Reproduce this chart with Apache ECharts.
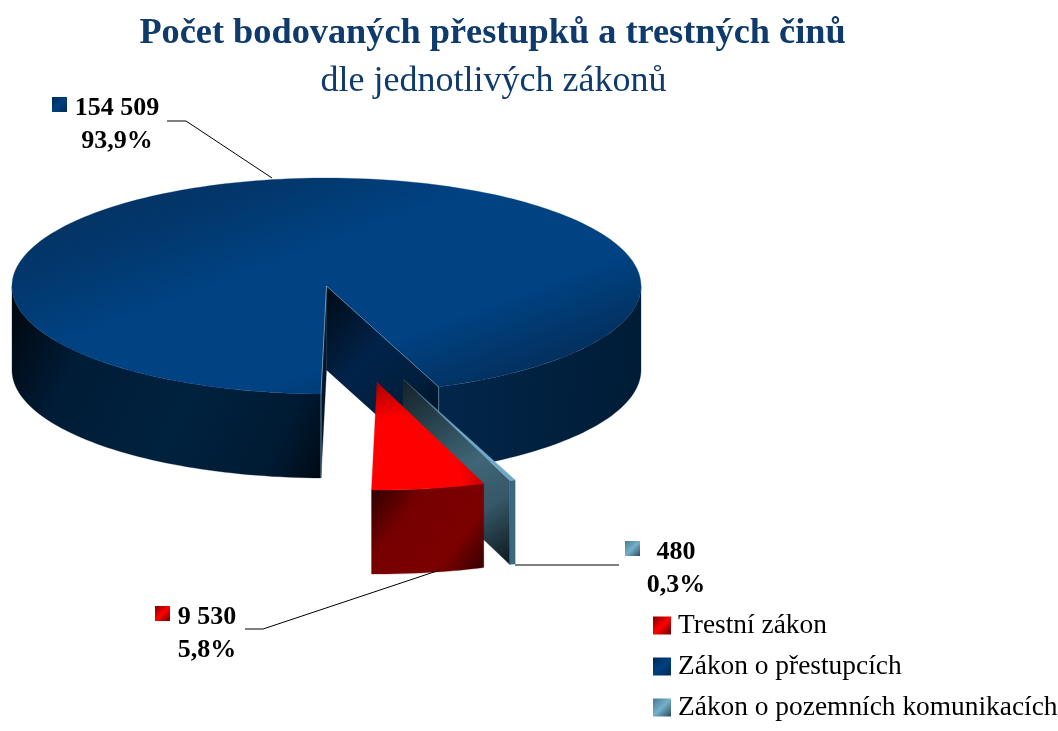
<!DOCTYPE html>
<html>
<head>
<meta charset="utf-8">
<title>Počet bodovaných přestupků</title>
<style>html,body{margin:0;padding:0;background:#fff}#chart{width:1058px;height:731px}</style>
<script src="https://cdn.jsdelivr.net/npm/echarts@6/dist/echarts.min.js"></script>
</head>
<body>
<div id="chart"></div>
<script>
// data
var categories = ['Trestní zákon', 'Zákon o přestupcích', 'Zákon o pozemních komunikacích'];
var values = [9530, 154509, 480];

var total = values.reduce(function (a, b) { return a + b; }, 0);
var serif = '"Liberation Serif", "Times New Roman", serif';

// pie geometry (screen), angle 0 = towards viewer, positive = to the right
var CX = 326.5, CY = 286, RX = 314.5, RY = 108, DEPTH = 84;
var START = 19.85;

function lin(x0, y0, x1, y1, stops) {
    var list = stops.map(function (s) { return { offset: s[0], color: s[1] }; });
    return new echarts.graphic.LinearGradient(x0, y0, x1, y1, list, true);
}
function rad(x, y, r, stops) {
    var list = stops.map(function (s) { return { offset: s[0], color: s[1] }; });
    return new echarts.graphic.RadialGradient(x, y, r, list, true);
}
function boxGrad(stops) {
    var list = stops.map(function (s) { return { offset: s[0], color: s[1] }; });
    return new echarts.graphic.LinearGradient(0, 0, 1, 1, list);
}

var markerStops = [
    [[0, '#7a0000'], [0.5, '#ff0000'], [1, '#6a0000']],
    [[0, '#002a55'], [0.5, '#004080'], [1, '#002a55']],
    [[0, '#4a7a90'], [0.5, '#74b0cc'], [1, '#2a4a5a']]
];

// where each slice sits and how its label is placed
var looks = [
    { dx: 50.5, dy: 96, labelX: 207, labelY: 634, markX: 155, markY: 606,
      leader: [[245, 629], [263, 629], [440, 570]] },
    { dx: 0, dy: 0, labelX: 117, labelY: 125, markX: 52, markY: 97,
      leader: [[167, 121], [186, 121], [272, 178]] },
    { dx: 76.5, dy: 93, labelX: 676, labelY: 569, markX: 625, markY: 541,
      leader: [[515, 565], [619, 565]] }
];

function pt(t, dx, dy, down) {
    var a = t * Math.PI / 180;
    return [CX + dx + RX * Math.sin(a), CY + dy + RY * Math.cos(a) + (down || 0)];
}
function arc(t0, t1, dx, dy, down) {
    var n = Math.max(2, Math.ceil(Math.abs(t1 - t0) / 1.5));
    var out = [];
    for (var i = 0; i <= n; i++) {
        out.push(pt(t0 + (t1 - t0) * i / n, dx, dy, down));
    }
    return out;
}
function band(t0, t1, dx, dy) {
    return arc(t0, t1, dx, dy, 0).concat(arc(t1, t0, dx, dy, DEPTH));
}
function poly(points, fill, stroke) {
    return {
        type: 'polygon',
        shape: { points: points },
        style: { fill: fill, stroke: stroke || fill, lineWidth: stroke ? 0.8 : 0.3 },
        silent: true
    };
}
function line(points, color, width) {
    return {
        type: 'polyline',
        shape: { points: points },
        style: { fill: null, stroke: color, lineWidth: width || 1 },
        silent: true
    };
}

function sliceAngles(idx) {
    var t = START;
    for (var i = 0; i < idx; i++) t -= values[i] / total * 360;
    return [t, t - values[idx] / total * 360];
}

function drawBlue(t0, t1, look) {
    var apex = [CX, CY];
    var rim0 = pt(t0, 0, 0), rim1 = pt(t1 + 360, 0, 0);
    var kids = [];
    // outer wall, left part and right part
    kids.push(poly(band(t0, -90, 0, 0), lin(12, 330, 322, 477, [
        [0, '#000a14'], [0.2, '#001c36'], [0.55, '#00223f'], [0.85, '#001a32'], [1, '#000a14']
    ])));
    kids.push(poly(band(90, t1 + 360, 0, 0), lin(440, 400, 640, 420, [
        [0, '#02264a'], [1, '#001c36']
    ])));
    // cut faces
    kids.push(poly([apex, rim1, [rim1[0], rim1[1] + DEPTH], [CX, CY + DEPTH]], lin(327, 300, 440, 400, [
        [0, '#000e1c'], [0.45, '#01234a'], [0.8, '#011f3c'], [1, '#00162c']
    ])));
    kids.push(poly([apex, rim0, [rim0[0], rim0[1] + DEPTH], [CX, CY + DEPTH]], '#00152c'));
    // top
    var top = [apex].concat(arc(t0, t1, 0, 0, 0));
    kids.push(poly(top, lin(200, 128, 319, 448, [
        [0, '#04305c'], [0.25, '#02386e'], [0.45, '#004282'], [0.78, '#004282'], [1, '#03305e']
    ])));
    kids.push(line([apex, rim1, [rim1[0], rim1[1] + 30]], '#6f93ad', 0.7));
    kids.push(line([apex, rim0, [rim0[0], rim0[1] + DEPTH]], '#7ea3ba', 0.8));
    return kids;
}

function drawRed(t0, t1, look) {
    var kids = [];
    kids.push(poly(band(t0, t1, look.dx, look.dy), lin(371, 490, 484, 573, [
        [0, '#2e0000'], [0.3, '#760000'], [0.72, '#7c0000'], [1, '#300000']
    ])));
    var apex = [CX + look.dx, CY + look.dy];
    kids.push(poly([apex].concat(arc(t0, t1, look.dx, look.dy, 0)), rad(400, 478, 110, [
        [0, '#ff0000'], [0.55, '#ff0000'], [1, '#8a0000']
    ])));
    return kids;
}

function drawTeal(t0, t1, look) {
    var dx = look.dx, dy = look.dy;
    var a0 = t0 + 360, a1 = t1 + 360; // nearest to viewer
    var apex = [CX + dx, CY + dy];
    var inner = pt(a1, dx, dy);
    var kids = [];
    kids.push(poly([apex, inner, [inner[0], inner[1] + DEPTH], [apex[0], apex[1] + DEPTH]],
        lin(403, 385, 512, 560, [
            [0, '#16242c'], [0.5, '#3f6676'], [0.72, '#365868'], [1, '#0e1a20']
        ])));
    kids.push(poly(band(a1, a0, dx, dy), '#3b687e'));
    kids.push(poly([apex].concat(arc(a0, a1, dx, dy, 0)), lin(403, 380, 515, 480, [
        [0, '#3a6478'], [0.5, '#6fa9c6'], [1, '#6fa9c6']
    ])));
    return kids;
}

function labelParts(idx, look) {
    var pct = (values[idx] / total * 100).toFixed(1).replace('.', ',');
    var num = String(values[idx]).replace(/\B(?=(\d{3})+$)/g, ' ');
    return [
        line(look.leader, '#000', 1),
        {
            type: 'rect',
            shape: { x: look.markX, y: look.markY, width: 15, height: 15 },
            style: { fill: boxGrad(markerStops[idx]) },
            silent: true
        },
        {
            type: 'text',
            x: look.labelX,
            y: look.labelY,
            silent: true,
            style: {
                text: num + '\n' + pct + '%',
                fill: '#000',
                fontFamily: serif,
                fontWeight: 'bold',
                fontSize: 26,
                lineHeight: 33,
                align: 'center',
                verticalAlign: 'middle'
            }
        }
    ];
}

var drawers = [drawRed, drawBlue, drawTeal];
var layers = [3, 1, 2]; // red is in front of the thin slice, blue at the back

var series = categories.map(function (name, idx) {
    return {
        name: name,
        type: 'custom',
        coordinateSystem: 'none',
        z: layers[idx],
        silent: true,
        data: [[values[idx]]],
        renderItem: function () {
            var ang = sliceAngles(idx);
            var kids = drawers[idx](ang[0], ang[1], looks[idx]).concat(labelParts(idx, looks[idx]));
            return { type: 'group', children: kids };
        }
    };
});

var myChart = echarts.init(document.getElementById('chart'));
myChart.setOption({
    animation: false,
    backgroundColor: '#fff',
    title: [
        {
            text: 'Počet bodovaných přestupků a trestných činů',
            left: 487.5, top: 11, textAlign: 'center',
            textStyle: { fontFamily: serif, fontWeight: 'bold', fontSize: 36.3, color: '#0f3a6c' }
        },
        {
            text: 'dle jednotlivých zákonů',
            left: 488.5, top: 59, textAlign: 'center',
            textStyle: { fontFamily: serif, fontWeight: 'normal', fontSize: 36, color: '#0f3a6c' }
        }
    ],
    legend: {
        orient: 'vertical',
        left: 653, top: 612,
        padding: 0,
        width: 405, height: 150,
        itemWidth: 18, itemHeight: 18, itemGap: 14, align: 'left',
        icon: 'rect',
        selectedMode: false,
        textStyle: { fontFamily: serif, fontSize: 27.4, color: '#000', padding: [4, 0, 0, 2] },
        data: categories.map(function (name, idx) {
            return { name: name, itemStyle: { color: boxGrad(markerStops[idx]) } };
        })
    },
    series: series
});
</script>
</body>
</html>
